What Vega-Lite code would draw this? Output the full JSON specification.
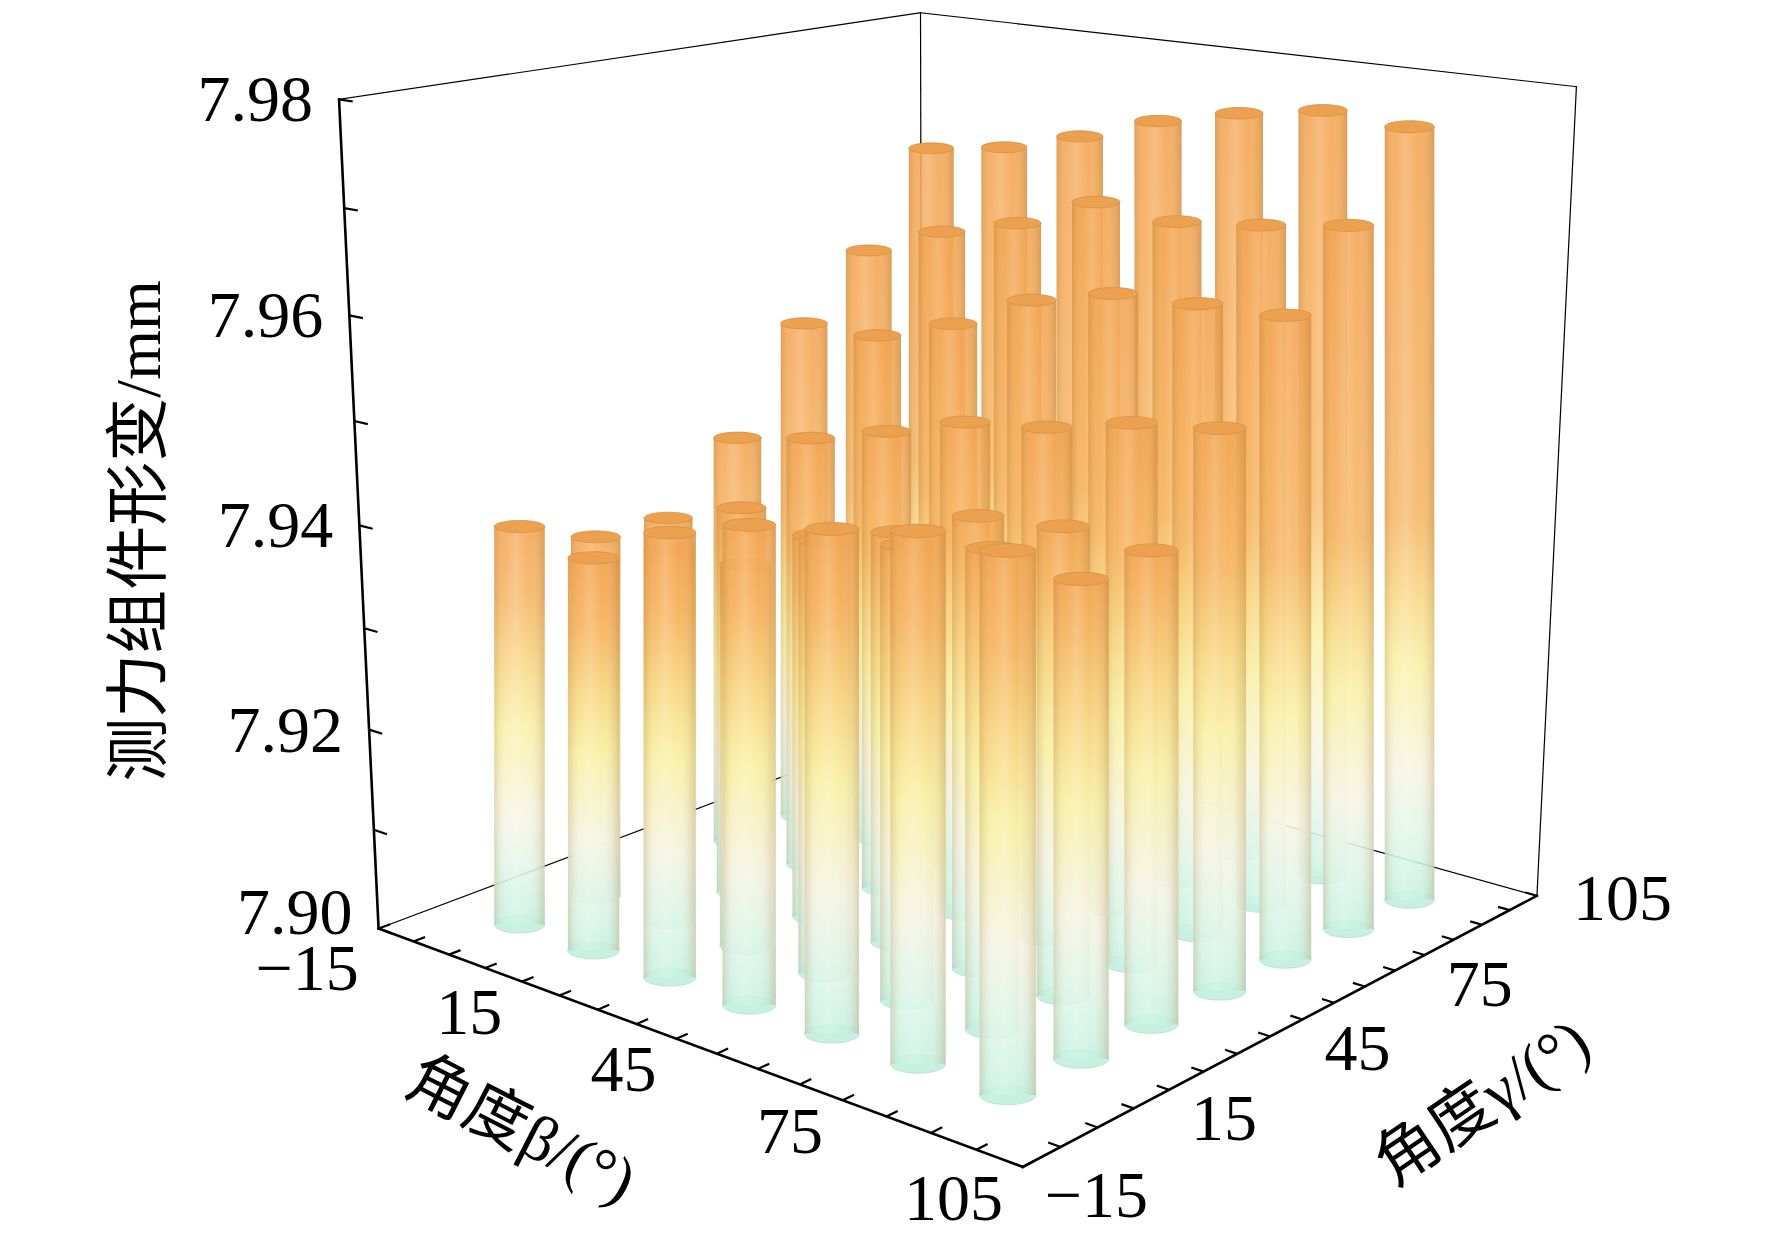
{
  "$schema": "https://vega.github.io/schema/vega-lite/v6.json",
  "width": 1772,
  "height": 1246,
  "padding": 0,
  "autosize": {"type": "none"},
  "background": "white",
  "config": {"view": {"stroke": null}},
  "datasets": {
    "bars": [
      {"beta": 0, "gamma": 0, "value": 7.9396}, {"beta": 15, "gamma": 0, "value": 7.9384}, {"beta": 30, "gamma": 0, "value": 7.9426}, {"beta": 45, "gamma": 0, "value": 7.9451}, {"beta": 60, "gamma": 0, "value": 7.9465}, {"beta": 75, "gamma": 0, "value": 7.9481}, {"beta": 90, "gamma": 0, "value": 7.9482},
      {"beta": 0, "gamma": 15, "value": 7.9365}, {"beta": 15, "gamma": 15, "value": 7.9371}, {"beta": 30, "gamma": 15, "value": 7.9375}, {"beta": 45, "gamma": 15, "value": 7.9416}, {"beta": 60, "gamma": 15, "value": 7.9430}, {"beta": 75, "gamma": 15, "value": 7.9445}, {"beta": 90, "gamma": 15, "value": 7.9436},
      {"beta": 0, "gamma": 30, "value": 7.9363}, {"beta": 15, "gamma": 30, "value": 7.9391}, {"beta": 30, "gamma": 30, "value": 7.9382}, {"beta": 45, "gamma": 30, "value": 7.9403}, {"beta": 60, "gamma": 30, "value": 7.9436}, {"beta": 75, "gamma": 30, "value": 7.9444}, {"beta": 90, "gamma": 30, "value": 7.9440},
      {"beta": 0, "gamma": 45, "value": 7.9425}, {"beta": 15, "gamma": 45, "value": 7.9441}, {"beta": 30, "gamma": 45, "value": 7.9464}, {"beta": 45, "gamma": 45, "value": 7.9489}, {"beta": 60, "gamma": 45, "value": 7.9500}, {"beta": 75, "gamma": 45, "value": 7.9520}, {"beta": 90, "gamma": 45, "value": 7.9531},
      {"beta": 0, "gamma": 60, "value": 7.9525}, {"beta": 15, "gamma": 60, "value": 7.9527}, {"beta": 30, "gamma": 60, "value": 7.9553}, {"beta": 45, "gamma": 60, "value": 7.9590}, {"beta": 60, "gamma": 60, "value": 7.9610}, {"beta": 75, "gamma": 60, "value": 7.9614}, {"beta": 90, "gamma": 60, "value": 7.9617},
      {"beta": 0, "gamma": 75, "value": 7.9585}, {"beta": 15, "gamma": 75, "value": 7.9617}, {"beta": 30, "gamma": 75, "value": 7.9638}, {"beta": 45, "gamma": 75, "value": 7.9671}, {"beta": 60, "gamma": 75, "value": 7.9664}, {"beta": 75, "gamma": 75, "value": 7.9673}, {"beta": 90, "gamma": 75, "value": 7.9685},
      {"beta": 0, "gamma": 90, "value": 7.9678}, {"beta": 15, "gamma": 90, "value": 7.9690}, {"beta": 30, "gamma": 90, "value": 7.9712}, {"beta": 45, "gamma": 90, "value": 7.9738}, {"beta": 60, "gamma": 90, "value": 7.9756}, {"beta": 75, "gamma": 90, "value": 7.9769}, {"beta": 90, "gamma": 90, "value": 7.9764}
    ],
    "edges": [
      {"edge": "AB", "kind": "axis", "end": 0, "beta": -15, "gamma": -15, "z": 7.9}, {"edge": "AB", "kind": "axis", "end": 1, "beta": 105, "gamma": -15, "z": 7.9},
      {"edge": "BC", "kind": "axis", "end": 0, "beta": 105, "gamma": -15, "z": 7.9}, {"edge": "BC", "kind": "axis", "end": 1, "beta": 105, "gamma": 105, "z": 7.9},
      {"edge": "AD", "kind": "axis", "end": 0, "beta": -15, "gamma": -15, "z": 7.9}, {"edge": "AD", "kind": "axis", "end": 1, "beta": -15, "gamma": -15, "z": 7.98},
      {"edge": "AG", "kind": "frame", "end": 0, "beta": -15, "gamma": -15, "z": 7.9}, {"edge": "AG", "kind": "frame", "end": 1, "beta": -15, "gamma": 105, "z": 7.9},
      {"edge": "GC", "kind": "frame", "end": 0, "beta": -15, "gamma": 105, "z": 7.9}, {"edge": "GC", "kind": "frame", "end": 1, "beta": 105, "gamma": 105, "z": 7.9},
      {"edge": "GF", "kind": "frame", "end": 0, "beta": -15, "gamma": 105, "z": 7.9}, {"edge": "GF", "kind": "frame", "end": 1, "beta": -15, "gamma": 105, "z": 7.98},
      {"edge": "CE", "kind": "frame", "end": 0, "beta": 105, "gamma": 105, "z": 7.9}, {"edge": "CE", "kind": "frame", "end": 1, "beta": 105, "gamma": 105, "z": 7.98},
      {"edge": "DF", "kind": "frame", "end": 0, "beta": -15, "gamma": -15, "z": 7.98}, {"edge": "DF", "kind": "frame", "end": 1, "beta": -15, "gamma": 105, "z": 7.98},
      {"edge": "FE", "kind": "frame", "end": 0, "beta": -15, "gamma": 105, "z": 7.98}, {"edge": "FE", "kind": "frame", "end": 1, "beta": 105, "gamma": 105, "z": 7.98}
    ],
    "ticks": [
      {"axis": "beta", "val": -15}, {"axis": "beta", "val": -7.5}, {"axis": "beta", "val": 0}, {"axis": "beta", "val": 7.5}, {"axis": "beta", "val": 15}, {"axis": "beta", "val": 22.5}, {"axis": "beta", "val": 30}, {"axis": "beta", "val": 37.5}, {"axis": "beta", "val": 45}, {"axis": "beta", "val": 52.5}, {"axis": "beta", "val": 60}, {"axis": "beta", "val": 67.5}, {"axis": "beta", "val": 75}, {"axis": "beta", "val": 82.5}, {"axis": "beta", "val": 90}, {"axis": "beta", "val": 97.5}, {"axis": "beta", "val": 105},
      {"axis": "gamma", "val": -15}, {"axis": "gamma", "val": -7.5}, {"axis": "gamma", "val": 0}, {"axis": "gamma", "val": 7.5}, {"axis": "gamma", "val": 15}, {"axis": "gamma", "val": 22.5}, {"axis": "gamma", "val": 30}, {"axis": "gamma", "val": 37.5}, {"axis": "gamma", "val": 45}, {"axis": "gamma", "val": 52.5}, {"axis": "gamma", "val": 60}, {"axis": "gamma", "val": 67.5}, {"axis": "gamma", "val": 75}, {"axis": "gamma", "val": 82.5}, {"axis": "gamma", "val": 90}, {"axis": "gamma", "val": 97.5}, {"axis": "gamma", "val": 105},
      {"axis": "z", "val": 7.9}, {"axis": "z", "val": 7.91}, {"axis": "z", "val": 7.92}, {"axis": "z", "val": 7.93}, {"axis": "z", "val": 7.94}, {"axis": "z", "val": 7.95}, {"axis": "z", "val": 7.96}, {"axis": "z", "val": 7.97}, {"axis": "z", "val": 7.98}
    ],
    "labels": [
      {"axis": "beta", "val": -15, "label": "−15"}, {"axis": "beta", "val": 15, "label": "15"}, {"axis": "beta", "val": 45, "label": "45"}, {"axis": "beta", "val": 75, "label": "75"}, {"axis": "beta", "val": 105, "label": "105"},
      {"axis": "gamma", "val": -15, "label": "−15"}, {"axis": "gamma", "val": 15, "label": "15"}, {"axis": "gamma", "val": 45, "label": "45"}, {"axis": "gamma", "val": 75, "label": "75"}, {"axis": "gamma", "val": 105, "label": "105"},
      {"axis": "z", "val": 7.9, "label": "7.90"}, {"axis": "z", "val": 7.92, "label": "7.92"}, {"axis": "z", "val": 7.94, "label": "7.94"}, {"axis": "z", "val": 7.96, "label": "7.96"}, {"axis": "z", "val": 7.98, "label": "7.98"}
    ],
    "titles": [
      {"axis": "beta", "label": "角度β/(°)"},
      {"axis": "gamma", "label": "角度γ/(°)"},
      {"axis": "z", "label": "测力组件形变/mm"}
    ]
  },
  "encoding": {
    "x": {"field": "X", "type": "quantitative", "scale": {"domain": [0, 1568], "nice": false, "zero": false}, "axis": null},
    "y": {"field": "Y", "type": "quantitative", "scale": {"domain": [0, 1103], "nice": false, "zero": false, "reverse": true}, "axis": null}
  },
  "layer": [
    {
      "data": {"name": "edges"},
      "transform": [
        {"calculate": "(datum.beta + 15) / 120", "as": "u"},
        {"calculate": "(datum.gamma + 15) / 120", "as": "v"},
        {"calculate": "1 - 0.14092 * datum.u + 0.16566 * datum.v", "as": "w"},
        {"calculate": "(442.47 * datum.u + 616.18 * datum.v + 335) / datum.w", "as": "bx"},
        {"calculate": "(65.43 * datum.u - 74.81 * datum.v + 822) / datum.w", "as": "by"},
        {"calculate": "(datum.z - 7.9) / 0.08", "as": "zz"},
        {"calculate": "734 / datum.w * 0.9468 * datum.zz / (1 - 0.0532 * datum.zz)", "as": "hz"},
        {"calculate": "datum.bx + (datum.bx - 841) * datum.hz / (11436 - datum.by)", "as": "X"},
        {"calculate": "datum.by - datum.hz", "as": "Y"}
      ],
      "mark": {"type": "line", "color": "black", "strokeCap": "square"},
      "encoding": {
        "detail": {"field": "edge"},
        "order": {"field": "end"},
        "strokeWidth": {"field": "kind", "type": "nominal", "scale": {"domain": ["axis", "frame"], "range": [2.6, 1.2]}, "legend": null}
      }
    },
    {
      "data": {"name": "bars"},
      "transform": [
        {"calculate": "(datum.beta + 15) / 120", "as": "u"},
        {"calculate": "(datum.gamma + 15) / 120", "as": "v"},
        {"calculate": "1 - 0.14092 * datum.u + 0.16566 * datum.v", "as": "w"},
        {"calculate": "(442.47 * datum.u + 616.18 * datum.v + 335) / datum.w", "as": "bx"},
        {"calculate": "(65.43 * datum.u - 74.81 * datum.v + 822) / datum.w", "as": "by"},
        {"calculate": "(datum.value - 7.9) / 0.08", "as": "zz"},
        {"calculate": "734 / datum.w * 0.9468 * datum.zz / (1 - 0.0532 * datum.zz)", "as": "hz"},
        {"calculate": "datum.bx + (datum.bx - 841) * datum.hz / (11436 - datum.by)", "as": "px"},
        {"calculate": "datum.by - datum.hz", "as": "py"},
        {"calculate": "(datum.bx + datum.px) / 2", "as": "cx"},
        {"calculate": "22.4 / datum.w", "as": "r"},
        {"calculate": "4 * pow(datum.r * 1.1301, 2)", "as": "S"}
      ],
      "layer": [
        {
          "transform": [{"filter": "datum.gamma == 90"}],
          "layer": [
            {"transform": [{"calculate": "datum.cx", "as": "X"}, {"calculate": "datum.by", "as": "Y"}],
             "mark": {"type": "point", "shape": "M-1,0C-1,-0.1877,-0.552,-0.34,0,-0.34C0.552,-0.34,1,-0.1877,1,0C1,0.1877,0.552,0.34,0,0.34C-0.552,0.34,-1,0.1877,-1,0Z", "filled": true, "fill": "#c3efdd", "stroke": "#a9dcc8", "strokeWidth": 0.8, "opacity": 0.9},
             "encoding": {"size": {"field": "S", "type": "quantitative", "scale": null}}},
            {"transform": [{"calculate": "datum.cx - datum.r", "as": "X"}, {"calculate": "datum.cx + datum.r", "as": "X2"}, {"calculate": "datum.py", "as": "Y"}, {"calculate": "datum.by", "as": "Y2"}],
             "encoding": {"x2": {"field": "X2"}, "y2": {"field": "Y2"}},
             "layer": [
               {"mark": {"type": "rect", "fillOpacity": 0.88, "fill": {"gradient": "linear", "x1": 0, "y1": 1, "x2": 0, "y2": 0, "stops": [{"offset": 0, "color": "#c3f1df"}, {"offset": 0.083, "color": "#dff5e7"}, {"offset": 0.165, "color": "#f6f4e2"}, {"offset": 0.303, "color": "#f9f0a2"}, {"offset": 0.399, "color": "#f8d47e"}, {"offset": 0.495, "color": "#f6b35e"}, {"offset": 1, "color": "#f3a14c"}]}}},
               {"mark": {"type": "rect", "fill": {"gradient": "linear", "x1": 0, "y1": 0, "x2": 1, "y2": 0, "stops": [{"offset": 0, "color": "rgba(150,105,45,0.22)"}, {"offset": 0.22, "color": "rgba(255,255,255,0.05)"}, {"offset": 0.42, "color": "rgba(255,255,255,0.2)"}, {"offset": 0.68, "color": "rgba(255,255,255,0.02)"}, {"offset": 1, "color": "rgba(150,105,45,0.26)"}]}}}
             ]},
            {"transform": [{"calculate": "datum.cx", "as": "X"}, {"calculate": "datum.py", "as": "Y"}],
             "mark": {"type": "point", "shape": "M-1,0C-1,-0.1325,-0.552,-0.24,0,-0.24C0.552,-0.24,1,-0.1325,1,0C1,0.1325,0.552,0.24,0,0.24C-0.552,0.24,-1,0.1325,-1,0Z", "filled": true, "fill": "#eba14f", "stroke": "#d8903f", "strokeWidth": 0.8, "opacity": 1},
             "encoding": {"size": {"field": "S", "type": "quantitative", "scale": null}}}
          ]
        },
        {
          "transform": [{"filter": "datum.gamma == 75"}],
          "layer": [
            {"transform": [{"calculate": "datum.cx", "as": "X"}, {"calculate": "datum.by", "as": "Y"}],
             "mark": {"type": "point", "shape": "M-1,0C-1,-0.1877,-0.552,-0.34,0,-0.34C0.552,-0.34,1,-0.1877,1,0C1,0.1877,0.552,0.34,0,0.34C-0.552,0.34,-1,0.1877,-1,0Z", "filled": true, "fill": "#c3efdd", "stroke": "#a9dcc8", "strokeWidth": 0.8, "opacity": 0.9},
             "encoding": {"size": {"field": "S", "type": "quantitative", "scale": null}}},
            {"transform": [{"calculate": "datum.cx - datum.r", "as": "X"}, {"calculate": "datum.cx + datum.r", "as": "X2"}, {"calculate": "datum.py", "as": "Y"}, {"calculate": "datum.by", "as": "Y2"}],
             "encoding": {"x2": {"field": "X2"}, "y2": {"field": "Y2"}},
             "layer": [
               {"mark": {"type": "rect", "fillOpacity": 0.88, "fill": {"gradient": "linear", "x1": 0, "y1": 1, "x2": 0, "y2": 0, "stops": [{"offset": 0, "color": "#c3f1df"}, {"offset": 0.092, "color": "#dff5e7"}, {"offset": 0.185, "color": "#f6f4e2"}, {"offset": 0.338, "color": "#f9f0a2"}, {"offset": 0.446, "color": "#f8d47e"}, {"offset": 0.554, "color": "#f6b35e"}, {"offset": 1, "color": "#f3a14c"}]}}},
               {"mark": {"type": "rect", "fill": {"gradient": "linear", "x1": 0, "y1": 0, "x2": 1, "y2": 0, "stops": [{"offset": 0, "color": "rgba(150,105,45,0.22)"}, {"offset": 0.22, "color": "rgba(255,255,255,0.05)"}, {"offset": 0.42, "color": "rgba(255,255,255,0.2)"}, {"offset": 0.68, "color": "rgba(255,255,255,0.02)"}, {"offset": 1, "color": "rgba(150,105,45,0.26)"}]}}}
             ]},
            {"transform": [{"calculate": "datum.cx", "as": "X"}, {"calculate": "datum.py", "as": "Y"}],
             "mark": {"type": "point", "shape": "M-1,0C-1,-0.1325,-0.552,-0.24,0,-0.24C0.552,-0.24,1,-0.1325,1,0C1,0.1325,0.552,0.24,0,0.24C-0.552,0.24,-1,0.1325,-1,0Z", "filled": true, "fill": "#eba14f", "stroke": "#d8903f", "strokeWidth": 0.8, "opacity": 1},
             "encoding": {"size": {"field": "S", "type": "quantitative", "scale": null}}}
          ]
        },
        {
          "transform": [{"filter": "datum.gamma == 60"}],
          "layer": [
            {"transform": [{"calculate": "datum.cx", "as": "X"}, {"calculate": "datum.by", "as": "Y"}],
             "mark": {"type": "point", "shape": "M-1,0C-1,-0.1877,-0.552,-0.34,0,-0.34C0.552,-0.34,1,-0.1877,1,0C1,0.1877,0.552,0.34,0,0.34C-0.552,0.34,-1,0.1877,-1,0Z", "filled": true, "fill": "#c3efdd", "stroke": "#a9dcc8", "strokeWidth": 0.8, "opacity": 0.9},
             "encoding": {"size": {"field": "S", "type": "quantitative", "scale": null}}},
            {"transform": [{"calculate": "datum.cx - datum.r", "as": "X"}, {"calculate": "datum.cx + datum.r", "as": "X2"}, {"calculate": "datum.py", "as": "Y"}, {"calculate": "datum.by", "as": "Y2"}],
             "encoding": {"x2": {"field": "X2"}, "y2": {"field": "Y2"}},
             "layer": [
               {"mark": {"type": "rect", "fillOpacity": 0.88, "fill": {"gradient": "linear", "x1": 0, "y1": 1, "x2": 0, "y2": 0, "stops": [{"offset": 0, "color": "#c3f1df"}, {"offset": 0.103, "color": "#dff5e7"}, {"offset": 0.207, "color": "#f6f4e2"}, {"offset": 0.379, "color": "#f9f0a2"}, {"offset": 0.5, "color": "#f8d47e"}, {"offset": 0.621, "color": "#f6b35e"}, {"offset": 1, "color": "#f3a14c"}]}}},
               {"mark": {"type": "rect", "fill": {"gradient": "linear", "x1": 0, "y1": 0, "x2": 1, "y2": 0, "stops": [{"offset": 0, "color": "rgba(150,105,45,0.22)"}, {"offset": 0.22, "color": "rgba(255,255,255,0.05)"}, {"offset": 0.42, "color": "rgba(255,255,255,0.2)"}, {"offset": 0.68, "color": "rgba(255,255,255,0.02)"}, {"offset": 1, "color": "rgba(150,105,45,0.26)"}]}}}
             ]},
            {"transform": [{"calculate": "datum.cx", "as": "X"}, {"calculate": "datum.py", "as": "Y"}],
             "mark": {"type": "point", "shape": "M-1,0C-1,-0.1325,-0.552,-0.24,0,-0.24C0.552,-0.24,1,-0.1325,1,0C1,0.1325,0.552,0.24,0,0.24C-0.552,0.24,-1,0.1325,-1,0Z", "filled": true, "fill": "#eba14f", "stroke": "#d8903f", "strokeWidth": 0.8, "opacity": 1},
             "encoding": {"size": {"field": "S", "type": "quantitative", "scale": null}}}
          ]
        },
        {
          "transform": [{"filter": "datum.gamma == 45"}],
          "layer": [
            {"transform": [{"calculate": "datum.cx", "as": "X"}, {"calculate": "datum.by", "as": "Y"}],
             "mark": {"type": "point", "shape": "M-1,0C-1,-0.1877,-0.552,-0.34,0,-0.34C0.552,-0.34,1,-0.1877,1,0C1,0.1877,0.552,0.34,0,0.34C-0.552,0.34,-1,0.1877,-1,0Z", "filled": true, "fill": "#c3efdd", "stroke": "#a9dcc8", "strokeWidth": 0.8, "opacity": 0.9},
             "encoding": {"size": {"field": "S", "type": "quantitative", "scale": null}}},
            {"transform": [{"calculate": "datum.cx - datum.r", "as": "X"}, {"calculate": "datum.cx + datum.r", "as": "X2"}, {"calculate": "datum.py", "as": "Y"}, {"calculate": "datum.by", "as": "Y2"}],
             "encoding": {"x2": {"field": "X2"}, "y2": {"field": "Y2"}},
             "layer": [
               {"mark": {"type": "rect", "fillOpacity": 0.88, "fill": {"gradient": "linear", "x1": 0, "y1": 1, "x2": 0, "y2": 0, "stops": [{"offset": 0, "color": "#c3f1df"}, {"offset": 0.125, "color": "#dff5e7"}, {"offset": 0.25, "color": "#f6f4e2"}, {"offset": 0.458, "color": "#f9f0a2"}, {"offset": 0.604, "color": "#f8d47e"}, {"offset": 0.75, "color": "#f6b35e"}, {"offset": 1, "color": "#f3a14c"}]}}},
               {"mark": {"type": "rect", "fill": {"gradient": "linear", "x1": 0, "y1": 0, "x2": 1, "y2": 0, "stops": [{"offset": 0, "color": "rgba(150,105,45,0.22)"}, {"offset": 0.22, "color": "rgba(255,255,255,0.05)"}, {"offset": 0.42, "color": "rgba(255,255,255,0.2)"}, {"offset": 0.68, "color": "rgba(255,255,255,0.02)"}, {"offset": 1, "color": "rgba(150,105,45,0.26)"}]}}}
             ]},
            {"transform": [{"calculate": "datum.cx", "as": "X"}, {"calculate": "datum.py", "as": "Y"}],
             "mark": {"type": "point", "shape": "M-1,0C-1,-0.1325,-0.552,-0.24,0,-0.24C0.552,-0.24,1,-0.1325,1,0C1,0.1325,0.552,0.24,0,0.24C-0.552,0.24,-1,0.1325,-1,0Z", "filled": true, "fill": "#eba14f", "stroke": "#d8903f", "strokeWidth": 0.8, "opacity": 1},
             "encoding": {"size": {"field": "S", "type": "quantitative", "scale": null}}}
          ]
        },
        {
          "transform": [{"filter": "datum.gamma == 30"}],
          "layer": [
            {"transform": [{"calculate": "datum.cx", "as": "X"}, {"calculate": "datum.by", "as": "Y"}],
             "mark": {"type": "point", "shape": "M-1,0C-1,-0.1877,-0.552,-0.34,0,-0.34C0.552,-0.34,1,-0.1877,1,0C1,0.1877,0.552,0.34,0,0.34C-0.552,0.34,-1,0.1877,-1,0Z", "filled": true, "fill": "#c3efdd", "stroke": "#a9dcc8", "strokeWidth": 0.8, "opacity": 0.9},
             "encoding": {"size": {"field": "S", "type": "quantitative", "scale": null}}},
            {"transform": [{"calculate": "datum.cx - datum.r", "as": "X"}, {"calculate": "datum.cx + datum.r", "as": "X2"}, {"calculate": "datum.py", "as": "Y"}, {"calculate": "datum.by", "as": "Y2"}],
             "encoding": {"x2": {"field": "X2"}, "y2": {"field": "Y2"}},
             "layer": [
               {"mark": {"type": "rect", "fillOpacity": 0.88, "fill": {"gradient": "linear", "x1": 0, "y1": 1, "x2": 0, "y2": 0, "stops": [{"offset": 0, "color": "#c3f1df"}, {"offset": 0.146, "color": "#dff5e7"}, {"offset": 0.293, "color": "#f6f4e2"}, {"offset": 0.537, "color": "#f9f0a2"}, {"offset": 0.707, "color": "#f8d47e"}, {"offset": 0.878, "color": "#f6b35e"}, {"offset": 1, "color": "#f3a14c"}]}}},
               {"mark": {"type": "rect", "fill": {"gradient": "linear", "x1": 0, "y1": 0, "x2": 1, "y2": 0, "stops": [{"offset": 0, "color": "rgba(150,105,45,0.22)"}, {"offset": 0.22, "color": "rgba(255,255,255,0.05)"}, {"offset": 0.42, "color": "rgba(255,255,255,0.2)"}, {"offset": 0.68, "color": "rgba(255,255,255,0.02)"}, {"offset": 1, "color": "rgba(150,105,45,0.26)"}]}}}
             ]},
            {"transform": [{"calculate": "datum.cx", "as": "X"}, {"calculate": "datum.py", "as": "Y"}],
             "mark": {"type": "point", "shape": "M-1,0C-1,-0.1325,-0.552,-0.24,0,-0.24C0.552,-0.24,1,-0.1325,1,0C1,0.1325,0.552,0.24,0,0.24C-0.552,0.24,-1,0.1325,-1,0Z", "filled": true, "fill": "#eba14f", "stroke": "#d8903f", "strokeWidth": 0.8, "opacity": 1},
             "encoding": {"size": {"field": "S", "type": "quantitative", "scale": null}}}
          ]
        },
        {
          "transform": [{"filter": "datum.gamma == 15"}],
          "layer": [
            {"transform": [{"calculate": "datum.cx", "as": "X"}, {"calculate": "datum.by", "as": "Y"}],
             "mark": {"type": "point", "shape": "M-1,0C-1,-0.1877,-0.552,-0.34,0,-0.34C0.552,-0.34,1,-0.1877,1,0C1,0.1877,0.552,0.34,0,0.34C-0.552,0.34,-1,0.1877,-1,0Z", "filled": true, "fill": "#c3efdd", "stroke": "#a9dcc8", "strokeWidth": 0.8, "opacity": 0.9},
             "encoding": {"size": {"field": "S", "type": "quantitative", "scale": null}}},
            {"transform": [{"calculate": "datum.cx - datum.r", "as": "X"}, {"calculate": "datum.cx + datum.r", "as": "X2"}, {"calculate": "datum.py", "as": "Y"}, {"calculate": "datum.by", "as": "Y2"}],
             "encoding": {"x2": {"field": "X2"}, "y2": {"field": "Y2"}},
             "layer": [
               {"mark": {"type": "rect", "fillOpacity": 0.88, "fill": {"gradient": "linear", "x1": 0, "y1": 1, "x2": 0, "y2": 0, "stops": [{"offset": 0, "color": "#c3f1df"}, {"offset": 0.146, "color": "#dff5e7"}, {"offset": 0.293, "color": "#f6f4e2"}, {"offset": 0.537, "color": "#f9f0a2"}, {"offset": 0.707, "color": "#f8d47e"}, {"offset": 0.878, "color": "#f6b35e"}, {"offset": 1, "color": "#f3a14c"}]}}},
               {"mark": {"type": "rect", "fill": {"gradient": "linear", "x1": 0, "y1": 0, "x2": 1, "y2": 0, "stops": [{"offset": 0, "color": "rgba(150,105,45,0.22)"}, {"offset": 0.22, "color": "rgba(255,255,255,0.05)"}, {"offset": 0.42, "color": "rgba(255,255,255,0.2)"}, {"offset": 0.68, "color": "rgba(255,255,255,0.02)"}, {"offset": 1, "color": "rgba(150,105,45,0.26)"}]}}}
             ]},
            {"transform": [{"calculate": "datum.cx", "as": "X"}, {"calculate": "datum.py", "as": "Y"}],
             "mark": {"type": "point", "shape": "M-1,0C-1,-0.1325,-0.552,-0.24,0,-0.24C0.552,-0.24,1,-0.1325,1,0C1,0.1325,0.552,0.24,0,0.24C-0.552,0.24,-1,0.1325,-1,0Z", "filled": true, "fill": "#eba14f", "stroke": "#d8903f", "strokeWidth": 0.8, "opacity": 1},
             "encoding": {"size": {"field": "S", "type": "quantitative", "scale": null}}}
          ]
        },
        {
          "transform": [{"filter": "datum.gamma == 0"}],
          "layer": [
            {"transform": [{"calculate": "datum.cx", "as": "X"}, {"calculate": "datum.by", "as": "Y"}],
             "mark": {"type": "point", "shape": "M-1,0C-1,-0.1877,-0.552,-0.34,0,-0.34C0.552,-0.34,1,-0.1877,1,0C1,0.1877,0.552,0.34,0,0.34C-0.552,0.34,-1,0.1877,-1,0Z", "filled": true, "fill": "#c3efdd", "stroke": "#a9dcc8", "strokeWidth": 0.8, "opacity": 0.9},
             "encoding": {"size": {"field": "S", "type": "quantitative", "scale": null}}},
            {"transform": [{"calculate": "datum.cx - datum.r", "as": "X"}, {"calculate": "datum.cx + datum.r", "as": "X2"}, {"calculate": "datum.py", "as": "Y"}, {"calculate": "datum.by", "as": "Y2"}],
             "encoding": {"x2": {"field": "X2"}, "y2": {"field": "Y2"}},
             "layer": [
               {"mark": {"type": "rect", "fillOpacity": 0.88, "fill": {"gradient": "linear", "x1": 0, "y1": 1, "x2": 0, "y2": 0, "stops": [{"offset": 0, "color": "#c3f1df"}, {"offset": 0.136, "color": "#dff5e7"}, {"offset": 0.273, "color": "#f6f4e2"}, {"offset": 0.5, "color": "#f9f0a2"}, {"offset": 0.659, "color": "#f8d47e"}, {"offset": 0.818, "color": "#f6b35e"}, {"offset": 1, "color": "#f3a14c"}]}}},
               {"mark": {"type": "rect", "fill": {"gradient": "linear", "x1": 0, "y1": 0, "x2": 1, "y2": 0, "stops": [{"offset": 0, "color": "rgba(150,105,45,0.22)"}, {"offset": 0.22, "color": "rgba(255,255,255,0.05)"}, {"offset": 0.42, "color": "rgba(255,255,255,0.2)"}, {"offset": 0.68, "color": "rgba(255,255,255,0.02)"}, {"offset": 1, "color": "rgba(150,105,45,0.26)"}]}}}
             ]},
            {"transform": [{"calculate": "datum.cx", "as": "X"}, {"calculate": "datum.py", "as": "Y"}],
             "mark": {"type": "point", "shape": "M-1,0C-1,-0.1325,-0.552,-0.24,0,-0.24C0.552,-0.24,1,-0.1325,1,0C1,0.1325,0.552,0.24,0,0.24C-0.552,0.24,-1,0.1325,-1,0Z", "filled": true, "fill": "#eba14f", "stroke": "#d8903f", "strokeWidth": 0.8, "opacity": 1},
             "encoding": {"size": {"field": "S", "type": "quantitative", "scale": null}}}
          ]
        }
      ]
    },
    {
      "data": {"name": "ticks"},
      "transform": [
        {"calculate": "datum.axis == 'gamma' ? 105 : (datum.axis == 'z' ? -15 : datum.val)", "as": "b1"},
        {"calculate": "datum.axis == 'gamma' ? datum.val : -15", "as": "g1"},
        {"calculate": "datum.axis == 'z' ? datum.val : 7.9", "as": "z1"},
        {"calculate": "datum.b1 + (datum.axis == 'gamma' ? -2 : (datum.axis == 'z' ? 2.8 : 0))", "as": "b2"},
        {"calculate": "datum.g1 + (datum.axis == 'beta' ? 2.2 : 0)", "as": "g2"},
        {"calculate": "(datum.b1 + 15) / 120", "as": "u1"},
        {"calculate": "(datum.g1 + 15) / 120", "as": "v1"},
        {"calculate": "1 - 0.14092 * datum.u1 + 0.16566 * datum.v1", "as": "w1"},
        {"calculate": "(442.47 * datum.u1 + 616.18 * datum.v1 + 335) / datum.w1", "as": "bx1"},
        {"calculate": "(65.43 * datum.u1 - 74.81 * datum.v1 + 822) / datum.w1", "as": "by1"},
        {"calculate": "(datum.z1 - 7.9) / 0.08", "as": "zz"},
        {"calculate": "734 / datum.w1 * 0.9468 * datum.zz / (1 - 0.0532 * datum.zz)", "as": "hz1"},
        {"calculate": "datum.bx1 + (datum.bx1 - 841) * datum.hz1 / (11436 - datum.by1)", "as": "X"},
        {"calculate": "datum.by1 - datum.hz1", "as": "Y"},
        {"calculate": "(datum.b2 + 15) / 120", "as": "u2"},
        {"calculate": "(datum.g2 + 15) / 120", "as": "v2"},
        {"calculate": "1 - 0.14092 * datum.u2 + 0.16566 * datum.v2", "as": "w2"},
        {"calculate": "(442.47 * datum.u2 + 616.18 * datum.v2 + 335) / datum.w2", "as": "bx2"},
        {"calculate": "(65.43 * datum.u2 - 74.81 * datum.v2 + 822) / datum.w2", "as": "by2"},
        {"calculate": "734 / datum.w2 * 0.9468 * datum.zz / (1 - 0.0532 * datum.zz)", "as": "hz2"},
        {"calculate": "datum.bx2 + (datum.bx2 - 841) * datum.hz2 / (11436 - datum.by2)", "as": "X2"},
        {"calculate": "datum.by2 - datum.hz2", "as": "Y2"}
      ],
      "mark": {"type": "rule", "color": "black", "strokeWidth": 2.2},
      "encoding": {"x2": {"field": "X2"}, "y2": {"field": "Y2"}}
    },
    {
      "data": {"name": "labels"},
      "transform": [
        {"calculate": "datum.axis == 'gamma' ? 105 : (datum.axis == 'z' ? -15 : datum.val)", "as": "b"},
        {"calculate": "datum.axis == 'gamma' ? datum.val : -15", "as": "g"},
        {"calculate": "datum.axis == 'z' ? datum.val : 7.9", "as": "z"},
        {"calculate": "(datum.b + 15) / 120", "as": "u"},
        {"calculate": "(datum.g + 15) / 120", "as": "v"},
        {"calculate": "1 - 0.14092 * datum.u + 0.16566 * datum.v", "as": "w"},
        {"calculate": "(442.47 * datum.u + 616.18 * datum.v + 335) / datum.w", "as": "bx"},
        {"calculate": "(65.43 * datum.u - 74.81 * datum.v + 822) / datum.w", "as": "by"},
        {"calculate": "(datum.z - 7.9) / 0.08", "as": "zz"},
        {"calculate": "734 / datum.w * 0.9468 * datum.zz / (1 - 0.0532 * datum.zz)", "as": "hz"},
        {"calculate": "datum.bx + (datum.bx - 841) * datum.hz / (11436 - datum.by)", "as": "px"},
        {"calculate": "datum.by - datum.hz", "as": "py"}
      ],
      "layer": [
        {
          "transform": [
            {"filter": "datum.axis == 'beta'"},
            {"calculate": "datum.px - 17.5", "as": "X"},
            {"calculate": "datum.py + (datum.val == -15 ? 37 : 29)", "as": "Y"}
          ],
          "mark": {"type": "text", "align": "right", "baseline": "middle", "font": "Liberation Serif", "fontSize": 66, "color": "black"},
          "encoding": {"text": {"field": "label"}}
        },
        {
          "transform": [
            {"filter": "datum.axis == 'gamma'"},
            {"calculate": "datum.px + (datum.val == 105 ? 32 : 19.5)", "as": "X"},
            {"calculate": "datum.py + (datum.val == 105 ? 3.5 : 27)", "as": "Y"}
          ],
          "mark": {"type": "text", "align": "left", "baseline": "middle", "font": "Liberation Serif", "fontSize": 66, "color": "black"},
          "encoding": {"text": {"field": "label"}}
        },
        {
          "transform": [
            {"filter": "datum.axis == 'z'"},
            {"calculate": "datum.px - 23", "as": "X"},
            {"calculate": "datum.py + (datum.val == 7.9 ? -13 : 1.8)", "as": "Y"}
          ],
          "mark": {"type": "text", "align": "right", "baseline": "middle", "font": "Liberation Serif", "fontSize": 66, "color": "black"},
          "encoding": {"text": {"field": "label"}}
        }
      ]
    },
    {
      "data": {"name": "titles"},
      "transform": [
        {"calculate": "datum.axis == 'beta' ? 45 : (datum.axis == 'gamma' ? 105 : -15)", "as": "b"},
        {"calculate": "datum.axis == 'gamma' ? 45 : -15", "as": "g"},
        {"calculate": "datum.axis == 'z' ? 7.94 : 7.9", "as": "z"},
        {"calculate": "(datum.b + 15) / 120", "as": "u"},
        {"calculate": "(datum.g + 15) / 120", "as": "v"},
        {"calculate": "1 - 0.14092 * datum.u + 0.16566 * datum.v", "as": "w"},
        {"calculate": "(442.47 * datum.u + 616.18 * datum.v + 335) / datum.w", "as": "bx"},
        {"calculate": "(65.43 * datum.u - 74.81 * datum.v + 822) / datum.w", "as": "by"},
        {"calculate": "(datum.z - 7.9) / 0.08", "as": "zz"},
        {"calculate": "734 / datum.w * 0.9468 * datum.zz / (1 - 0.0532 * datum.zz)", "as": "hz"},
        {"calculate": "datum.bx + (datum.bx - 841) * datum.hz / (11436 - datum.by)", "as": "px"},
        {"calculate": "datum.by - datum.hz", "as": "py"}
      ],
      "layer": [
        {
          "transform": [
            {"filter": "datum.axis == 'beta'"},
            {"calculate": "datum.px - 138", "as": "X"},
            {"calculate": "datum.py + 82", "as": "Y"}
          ],
          "mark": {"type": "text", "align": "center", "baseline": "middle", "angle": 27, "font": "Liberation Serif, Noto Sans CJK SC", "fontSize": 64, "color": "black"},
          "encoding": {"text": {"field": "label"}}
        },
        {
          "transform": [
            {"filter": "datum.axis == 'gamma'"},
            {"calculate": "datum.px + 160", "as": "X"},
            {"calculate": "datum.py + 75", "as": "Y"}
          ],
          "mark": {"type": "text", "align": "center", "baseline": "middle", "angle": -34, "font": "Liberation Serif, Noto Sans CJK SC", "fontSize": 64, "color": "black"},
          "encoding": {"text": {"field": "label"}}
        },
        {
          "transform": [
            {"filter": "datum.axis == 'z'"},
            {"calculate": "datum.px - 193", "as": "X"},
            {"calculate": "datum.py + 5", "as": "Y"}
          ],
          "mark": {"type": "text", "align": "center", "baseline": "middle", "angle": -90, "font": "Liberation Serif, Noto Sans CJK SC", "fontSize": 64, "color": "black"},
          "encoding": {"text": {"field": "label"}}
        }
      ]
    }
  ]
}
